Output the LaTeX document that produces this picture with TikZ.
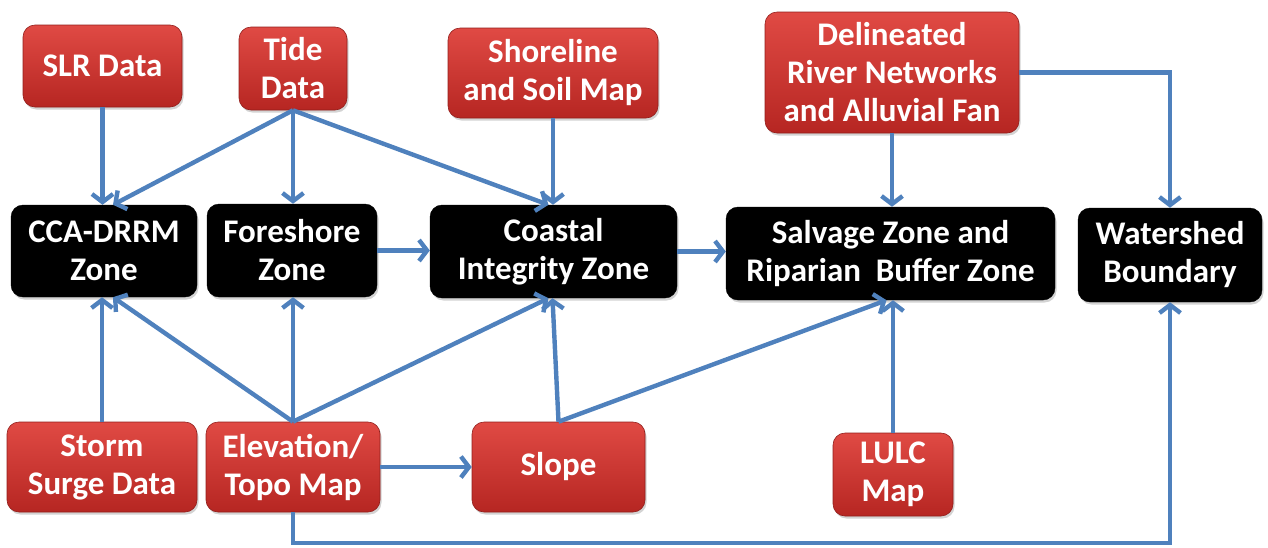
\documentclass[tikz,border=0pt]{standalone}
\usepackage{fontspec}
\setmainfont{Carlito}
\usetikzlibrary{arrows.meta,shadows,positioning}
\definecolor{arrowblue}{RGB}{79,129,189}
\definecolor{redtop}{RGB}{224,74,68}
\definecolor{redbot}{RGB}{182,38,34}
\tikzset{
  basebox/.style={rounded corners=12pt, inner sep=0pt, align=center, text=white,
    font=\fontsize{33}{38}\selectfont\bfseries,
    drop shadow={opacity=0.35, shadow xshift=1.5pt, shadow yshift=-2.5pt}},
  redbox/.style={basebox, top color=redtop, bottom color=redbot, draw=redbot!80!black, line width=0.6pt},
  blackbox/.style={basebox, fill=black, draw=black},
  conn/.style={draw=arrowblue, line width=4.4pt, -{Straight Barb[length=8pt,width=21pt]}}
}
\begin{document}
\begin{tikzpicture}[x=1pt,y=-1pt]
\useasboundingbox (0,0) rectangle (1268,547);
% red input boxes
\node[redbox, minimum width=159pt, minimum height=82pt] (slr) at (102.5,66) {SLR Data};
\node[redbox, minimum width=108pt, minimum height=83pt] (tide) at (293,68.5) {Tide\\Data};
\node[redbox, minimum width=210pt, minimum height=90pt] (shore) at (553,73) {Shoreline\\and Soil Map};
\node[redbox, minimum width=254pt, minimum height=121pt] (delin) at (892,72.5) {Delineated\\River Networks\\and Alluvial Fan};
\node[redbox, minimum width=190pt, minimum height=90pt] (storm) at (102,467) {Storm\\Surge Data};
\node[redbox, minimum width=174pt, minimum height=90pt] (elev) at (293,467) {Elevation/\\Topo Map};
\node[redbox, minimum width=173pt, minimum height=90pt] (slope) at (558.5,467) {Slope};
\node[redbox, minimum width=120pt, minimum height=83pt] (lulc) at (893,474.5) {LULC\\Map};
% black zone boxes
\node[blackbox, minimum width=186pt, minimum height=92pt] (cca) at (104,251) {CCA-DRRM\\Zone};
\node[blackbox, minimum width=170pt, minimum height=93pt] (fore) at (292,250.5) {Foreshore\\Zone};
\node[blackbox, minimum width=247pt, minimum height=93pt] (coast) at (553.5,251.5) {Coastal\\Integrity Zone};
\node[blackbox, minimum width=329pt, minimum height=93pt] (salv) at (890.5,253.5) {Salvage Zone and\\Riparian\ \ Buffer Zone};
\node[blackbox, minimum width=184pt, minimum height=94pt] (water) at (1170,255) {Watershed\\Boundary};
\coordinate (bot) at (293,543);
% connectors
\draw[conn] (slr.south) -- (slr.south |- cca.north);
\draw[conn] (tide.south) -- ([xshift=9pt]cca.north);
\draw[conn] (tide.south) -- (tide.south |- fore.north);
\draw[conn] (tide.south) -- ([xshift=-5pt]coast.north);
\draw[conn] (shore.south) -- (shore.south |- coast.north);
\draw[conn] (delin.south) -- (delin.south |- salv.north);
\draw[conn] (delin.east) -| (water.north);
\draw[conn] (fore.east) -- (coast.west |- fore.east);
\draw[conn] (coast.east) -- (salv.west |- coast.east);
\draw[conn] (storm.north) -- (storm.north |- cca.south);
\draw[conn] (elev.north) -- ([xshift=9pt]cca.south);
\draw[conn] (elev.north) -- (elev.north |- fore.south);
\draw[conn] (elev.north) -- ([xshift=-5pt]coast.south);
\draw[conn] (elev.east) -- (slope.west);
\draw[conn] (elev.south) -- (bot) -| (water.south);
\draw[conn] (slope.north) -- ([xshift=-1pt]coast.south);
\draw[conn] (slope.north) -- ([xshift=-4pt]salv.south);
\draw[conn] (lulc.north) -- (lulc.north |- salv.south);
\end{tikzpicture}
\end{document}
